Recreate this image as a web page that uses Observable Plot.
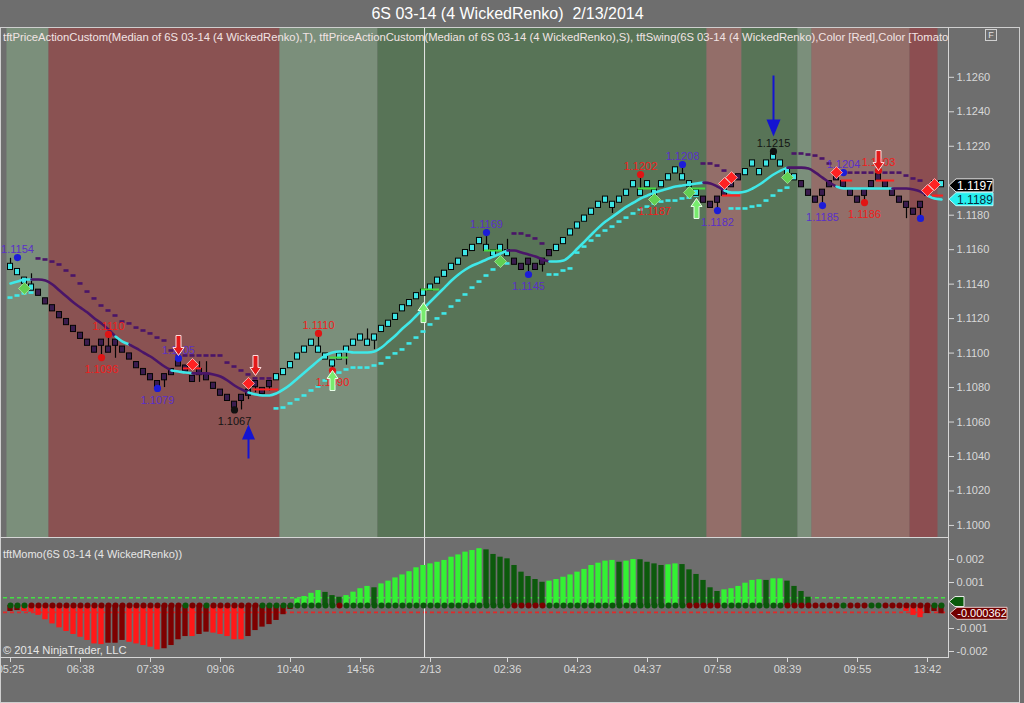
<!DOCTYPE html>
<html>
<head>
<meta charset="utf-8">
<script src="https://cdn.jsdelivr.net/npm/d3@7"></script>
<script src="https://cdn.jsdelivr.net/npm/@observablehq/plot@0.6"></script>
<style>
html,body{margin:0;padding:0;background:#6e6e6e;}
#wrap{position:relative;width:1024px;height:703px;overflow:hidden;background:#6e6e6e;font-family:"Liberation Sans",Arial,sans-serif;}
#title{position:absolute;left:0;top:0;width:1015px;height:27px;line-height:27px;text-align:center;color:#ffffff;font-size:16px;}
#legend{position:absolute;left:3px;top:31px;width:946px;overflow:hidden;white-space:nowrap;color:#f2e4e4;font-size:11.25px;line-height:13px;z-index:5;}
#momoTitle{position:absolute;left:3px;top:548px;white-space:nowrap;color:#e6e6e6;font-size:11px;line-height:13px;z-index:5;}
#copy{position:absolute;left:3px;top:644px;white-space:nowrap;color:#e6e6e6;font-size:11.2px;line-height:13px;z-index:5;}
.pane{position:absolute;left:0;}
.hline{position:absolute;height:1px;background:#d6d6d6;z-index:4;}
.vline{position:absolute;width:1px;background:#d6d6d6;z-index:4;}
#frame{position:absolute;left:0;top:27px;width:1020px;height:676px;box-sizing:border-box;border:1px solid #cfcfcf;z-index:4;}
#fbox{position:absolute;left:985px;top:29px;width:12px;height:12px;box-sizing:border-box;border:1px solid #d0d0d0;color:#e0e0e0;font-size:9px;line-height:10px;text-align:center;z-index:5;}
</style>
</head>
<body>
<div id="wrap">
  <div id="title">6S 03-14 (4 WickedRenko)&nbsp; 2/13/2014</div>
  <div id="frame"></div>
  <div id="fbox">F</div>
  <div id="legend">tftPriceActionCustom(Median of 6S 03-14 (4 WickedRenko),T), tftPriceActionCustom(Median of 6S 03-14 (4 WickedRenko),S), tftSwing(6S 03-14 (4 WickedRenko),Color [Red],Color [Tomato</div>
  <div id="momoTitle">tftMomo(6S 03-14 (4 WickedRenko))</div>
  <div id="copy">© 2014 NinjaTrader, LLC</div>
  <div class="hline" style="left:0;top:537px;width:948px;"></div>
  <div class="hline" style="left:0;top:657px;width:949px;"></div>
  <div class="vline" style="left:948px;top:27px;height:631px;"></div>
</div>
<script>
// ---------------- DATA ----------------
// Renko brick centres (4-tick bricks of 0.0004), one per bar
const brickMid = [
1.1150,1.1147,1.1142,1.1138,1.1135,1.1130,1.1126,1.1122,1.1118,1.1114,
1.1110,1.1106,1.1102,1.1106,1.1102,1.1106,1.1102,1.1098,1.1093,1.1089,
1.1086,1.1082,1.1086,1.1089,1.1094,1.1091,1.1085,1.1089,1.1086,1.1081,
1.1077,1.1074,1.1070,1.1074,1.1077,1.1082,1.1078,1.1082,1.1086,1.1089,
1.1093,1.1098,1.1102,1.1106,1.1102,1.1098,1.1094,1.1098,1.1102,1.1106,
1.1109,1.1106,1.1109,1.1114,1.1117,1.1121,1.1126,1.1129,1.1133,1.1135,
1.1138,1.1142,1.1146,1.1150,1.1153,1.1158,1.1161,1.1165,1.1161,1.1158,
1.1161,1.1158,1.1153,1.1150,1.1153,1.1150,1.1153,1.1158,1.1161,1.1165,
1.1170,1.1174,1.1178,1.1182,1.1186,1.1189,1.1186,1.1189,1.1193,1.1198,
1.1193,1.1198,1.1193,1.1198,1.1202,1.1206,1.1202,1.1198,1.1193,1.1189,
1.1186,1.1189,1.1193,1.1198,1.1202,1.1205,1.1210,1.1205,1.1210,1.1214,
1.1210,1.1205,1.1202,1.1198,1.1193,1.1189,1.1193,1.1198,1.1202,1.1198,
1.1193,1.1189,1.1193,1.1198,1.1202,1.1198,1.1193,1.1189,1.1186,1.1182,
1.1186,1.1193,1.1198,1.1198];
const brickSize = 0.0004;
// paint-bar trend: U = up (cyan), D = down (dark purple)
const brickTrend = "U".repeat(4) + "D".repeat(34) + "U".repeat(34) + "D".repeat(6) + "U".repeat(21) + "D".repeat(6) + "U".repeat(8) + "D".repeat(20) + "U";

// wicks (sparse)
const wickBar  = [0,3,13,14,15,22,24,26,27,28,32,33,34,35,37,44,46,48,51,52,68,71,74,76,86,90,92,96,97,101,109,111,116,122,124,128,130];
const wickHigh = [1.1155,1.1146,null,1.1111,null,null,1.1099,null,1.1095,1.1095,null,null,null,null,null,1.1111,null,null,1.1114,null,1.1170,1.1166,null,null,null,1.1204,null,1.1209,null,null,1.1217,null,null,null,1.1206,null,null];
const wickLow  = [null,null,1.1097,null,1.1097,1.1080,null,1.1084,1.1083,null,1.1067,1.1067,1.1073,1.1077,1.1078,null,1.1089,1.1093,null,1.1102,null,null,1.1146,1.1147,1.1181,null,1.1188,null,1.1192,1.1183,null,1.1201,1.1186,1.1187,null,1.1178,1.1178];

// smoothed median line (tftPriceActionCustom T) and its colour state C = cyan, P = purple
const maLine = [
1.11404,1.11415,1.11427,1.11427,1.11427,1.11421,1.11398,1.11363,1.11328,1.11293,
1.11264,1.11235,1.11201,1.11172,1.11137,1.11096,1.11067,1.11050,1.11027,1.11003,
1.10980,1.10951,1.10922,1.10899,1.10893,1.10887,1.10882,1.10882,1.10882,1.10876,
1.10864,1.10841,1.10812,1.10789,1.10771,1.10760,1.10754,1.10754,1.10766,1.10789,
1.10818,1.10853,1.10887,1.10922,1.10957,1.10986,1.11003,1.11009,1.11009,1.11003,
1.11003,1.11003,1.11009,1.11032,1.11067,1.11102,1.11143,1.11177,1.11218,1.11259,
1.11299,1.11340,1.11380,1.11421,1.11456,1.11485,1.11508,1.11525,1.11543,1.11560,
1.11578,1.11595,1.11595,1.11583,1.11572,1.11560,1.11543,1.11531,1.11531,1.11537,
1.11566,1.11607,1.11647,1.11688,1.11728,1.11763,1.11792,1.11821,1.11850,1.11873,
1.11897,1.11914,1.11931,1.11943,1.11955,1.11966,1.11972,1.11978,1.11984,1.11989,
1.11984,1.11966,1.11943,1.11931,1.11931,1.11937,1.11955,1.11978,1.12007,1.12036,
1.12059,1.12076,1.12076,1.12076,1.12071,1.12047,1.12018,1.11989,1.11966,1.11955,
1.11955,1.11955,1.11955,1.11955,1.11955,1.11955,1.11955,1.11955,1.11955,1.11949,
1.11937,1.11914,1.11897,1.11891];
const maColor = "C".repeat(3) + "P".repeat(12) + "C".repeat(2) + "P".repeat(6) + "C".repeat(3) + "P".repeat(8) + "C".repeat(37) + "P".repeat(6) + "C".repeat(22) + "P".repeat(3) + "C".repeat(9) + "P".repeat(7) + "C".repeat(8) + "P".repeat(5) + "C".repeat(3);

// trailing stop dashes (tftPriceActionCustom S), bars 0..130; side C = below (cyan), P = above (purple)
const stopVal = [
1.11322,1.11334,1.11346,1.11351,
1.11549,1.11543,1.11531,1.11514,1.11479,1.11450,1.11404,1.11357,1.11317,1.11276,1.11247,1.11218,1.11183,1.11172,1.11148,1.11131,1.11114,1.11090,1.11073,1.11015,1.10986,1.10986,1.10986,1.10986,1.10986,1.10986,1.10986,1.10945,1.10922,1.10899,1.10876,1.10853,1.10853,1.10853,
1.10679,1.10684,1.10708,1.10731,1.10754,1.10783,1.10806,1.10841,1.10864,1.10887,1.10905,1.10916,1.10916,1.10916,1.10928,1.10940,1.10974,1.10998,1.11021,1.11056,1.11090,1.11125,1.11166,1.11201,1.11230,1.11270,1.11305,1.11340,1.11380,1.11415,1.11450,1.11485,1.11514,1.11520,
1.11694,1.11694,1.11682,1.11665,1.11636,
1.11456,1.11456,1.11479,1.11491,1.11583,1.11618,1.11653,1.11682,1.11711,1.11734,1.11763,1.11786,1.11810,1.11833,1.11850,1.11868,1.11879,1.11885,1.11885,1.11897,1.11902,1.11914,
1.12100,1.12100,1.12088,1.12059,
1.11839,1.11839,1.11839,1.11850,1.11856,1.11885,1.11914,1.11943,1.11960,
1.12158,1.12158,1.12152,1.12146,1.12129,1.12100,1.12047,1.12047,1.12047,1.12047,1.12047,1.12047,1.12047,1.12047,1.12047,1.12047,1.12030,1.12013,1.12001];
const stopSide = "C".repeat(4) + "P".repeat(34) + "C".repeat(34) + "P".repeat(5) + "C".repeat(22) + "P".repeat(4) + "C".repeat(9) + "P".repeat(19);

// background trend zones
const bandStart = [0, 6, 39, 53, 100, 105, 113, 115, 129];
const bandEnd   = [5, 38, 52, 99, 104, 112, 114, 128, 132];
const bandKind  = ["upLight","down","upLight","up","downLight","up","upLight","downLight","downDark"];

// swing points
const swingBar   = [1, 14, 13, 21, 24, 32, 44, 46, 68, 74, 90, 92, 96, 101, 109, 116, 119, 122, 124, 130];
const swingPrice = [1.11554,1.11108,1.10974,1.10795,1.10969,1.1067,1.11114,1.10899,1.11699,1.11456,1.12036,1.11890,1.12094,1.11827,1.12170,1.11856,1.12047,1.11873,1.12059,1.11781];
const swingLabel = ["1.1154","1.1110","1.1096","1.1079","1.1105","1.1067","1.1110","1.1090","1.1169","1.1145","1.1202","1.1187","1.1208","1.1182","1.1215","1.1185","1.1204","1.1186","1.1203",""];
const swingPos   = ["a","a","b","b","a","b","a","b","a","b","a","b","a","b","a","b","a","b","a","b"];
const swingKind  = ["b","r","r","b","b","k","r","r","b","b","r","r","b","b","k","b","b","r","r","b"];

// signal markers
const greenDiamondBar = [2, 70, 92, 97, 111];
const greenDiamondPrice = [1.11375, 1.11531, 1.11891, 1.11931, 1.12018];
const redDiamondBar = [26, 34, 102, 103, 118, 131, 132];
const redDiamondPrice = [1.10934, 1.10824, 1.11984, 1.12018, 1.12047, 1.11943, 1.11978];
const redArrowBar = [24, 35, 124];
const redArrowTip = [1.10986, 1.10870, 1.12059];
const greenArrowBar = [46, 59, 98];
const greenArrowTip = [1.10899, 1.11293, 1.11897];
const blueUpBar = [34];  const blueUpTip = [1.10586];
const blueDownBar = [109]; const blueDownTip = [1.12256];
const redLineFrom = [25, 35, 102, 119, 124, 132];
const redLineTo   = [27, 38, 104, 120, 126, 133];
const redLinePrice = [1.10911, 1.10789, 1.11914, 1.12001, 1.12001, 1.11914];
const greenLineFrom = [46, 59, 68, 90, 97];
const greenLineTo   = [48, 61, 70, 92, 99];
const greenLinePrice = [1.10974, 1.11369, 1.11595, 1.11955, 1.11955];

// last value tags
const priceTagValue = [1.1197, 1.1189];
const priceTagText  = ["1.1197", "1.1189"];
const momoTagValue = -0.000362;
const momoTagText = "-0.000362";
const momoGreenTagValue = 0.00015;

// price axis labels (1.1200 is hidden under the last-price tag in the reference)
const priceTicks = [1.1000,1.1020,1.1040,1.1060,1.1080,1.1100,1.1120,1.1140,1.1160,1.1180,1.1220,1.1240,1.1260];

// momentum histogram (tftMomo)
const momo = [
-0.00026,-0.00022,-0.00026,-0.00029,-0.00043,-0.00062,-0.00080,-0.00097,-0.00113,-0.00126,
-0.00138,-0.00152,-0.00167,-0.00170,-0.00164,-0.00164,-0.00152,-0.00160,-0.00167,-0.00174,
-0.00181,-0.00193,-0.00188,-0.00174,-0.00149,-0.00135,-0.00135,-0.00126,-0.00116,-0.00120,
-0.00126,-0.00135,-0.00149,-0.00149,-0.00135,-0.00109,-0.00094,-0.00083,-0.00065,-0.00040,
-0.00017,0.00029,0.00039,0.00053,0.00065,0.00057,0.00043,0.00036,0.00043,0.00058,
0.00073,0.00083,0.00077,0.00094,0.00106,0.00120,0.00133,0.00147,0.00164,0.00174,
0.00181,0.00188,0.00196,0.00210,0.00220,0.00232,0.00239,0.00247,0.00242,0.00222,
0.00210,0.00203,0.00174,0.00145,0.00126,0.00113,0.00101,0.00106,0.00113,0.00123,
0.00133,0.00145,0.00157,0.00174,0.00184,0.00193,0.00196,0.00188,0.00193,0.00200,
0.00199,0.00188,0.00181,0.00174,0.00177,0.00181,0.00178,0.00155,0.00135,0.00109,
0.00077,0.00061,0.00068,0.00073,0.00083,0.00097,0.00109,0.00112,0.00109,0.00116,
0.00116,0.00106,0.00083,0.00061,0.00036,0,0,0,0,0,
0,0,0,0,0,0,-0.00005,-0.00012,-0.00026,-0.00043,
-0.00053,-0.00035,-0.00026,-0.00036];
// G bright green, g dark green, R bright red, r dark red
const momoColor = "rr" + "R".repeat(12) + "rrr" + "R".repeat(5) + "rrrr" + "R" + "rr" + "R".repeat(5) + "r".repeat(7) + "GGGG" + "ggg" + "GGGG" + "g" + "G".repeat(15) + "g".repeat(9) + "G".repeat(10) + "g" + "GG" + "gggg" + "GG" + "g".repeat(6) + "G".repeat(6) + "g" + "GG" + "g".repeat(15) + "R".repeat(5) + "rrr";
const momoDot = "g".repeat(3) + "r".repeat(22) + "g" + "rr" + "g" + "r".repeat(7) + "g".repeat(11) + "r" + "g".repeat(24) + "r".repeat(5) + "g".repeat(20) + "r".repeat(5) + "g".repeat(9) + "r".repeat(8) + "g" + "rrr" + "gg" + "r".repeat(7) + "gg";
const momoUpper = 0.00034;
const momoLower = -0.0003;
const momoTicks = [-0.002, -0.001, 0.001, 0.002];

const timeTickBar   = [0, 10, 20, 30, 40, 50, 60, 71, 81, 91, 101, 111, 121, 131];
const timeTickLabel = ["05:25","06:38","07:39","09:06","10:40","14:56","2/13","02:36","04:23","04:37","07:58","08:39","09:55","13:42"];
const crosshairBar = 59.15;

// ---------------- STYLE ----------------
const FONT = "Liberation Sans, Arial, sans-serif";
const COL = {
  upLight: "#7b8f7b", down: "#8a5252", up: "#587457", downLight: "#936e69", downDark: "#8c4e51",
  cyan: "#3fe8e8", purple: "#4a1568", brickUp: "#3ee6e6", brickDn: "#3a1c4e",
  G: "#33f233", g: "#0c5a0c", R: "#ff1818", r: "#7e0000",
  dotG: "#0a560a", dotR: "#7a0000"
};
const swingDotColor = {b: "#1c1cd8", r: "#e01414", k: "#111111"};
const swingTextColor = {b: "#5a30c8", r: "#f01c1c", k: "#141414"};

function arrowShape(len, shaftW, headW, headL, dir) {
  return {draw(ctx) {
    const s = dir;
    ctx.moveTo(0, 0);
    ctx.lineTo(-headW / 2, -headL * s);
    ctx.lineTo(-shaftW / 2, -headL * s);
    ctx.lineTo(-shaftW / 2, -len * s);
    ctx.lineTo(shaftW / 2, -len * s);
    ctx.lineTo(shaftW / 2, -headL * s);
    ctx.lineTo(headW / 2, -headL * s);
    ctx.closePath();
  }};
}
const diamondShape = {draw(ctx) { ctx.moveTo(0, -6); ctx.lineTo(6, 0); ctx.lineTo(0, 6); ctx.lineTo(-6, 0); ctx.closePath(); }};

// ---------------- TABLES ----------------
const n = brickMid.length;
const half = brickSize / 2;
const bars = brickMid.map((m, i) => ({i, lo: m - half * 0.9, hi: m + half * 0.9, up: brickTrend[i] === "U"}));
const wicks = wickBar.map((b, k) => ({i: b, hi: wickHigh[k] ?? brickMid[b], lo: wickLow[k] ?? brickMid[b]}));
const bands = bandStart.map((s, k) => ({s, e: bandEnd[k], k: bandKind[k]}));
const stops = stopVal.map((v, i) => ({i, v, side: stopSide[i]}));
const maPts = [];
let run = 0;
for (let i = 0; i < n; i++) {
  if (i > 0 && maColor[i] !== maColor[i - 1]) run++;
  maPts.push({i, v: maLine[i], run, c: maColor[i]});
  if (i + 1 < n && maColor[i + 1] !== maColor[i]) maPts.push({i: i + 1, v: maLine[i + 1], run, c: maColor[i]});
}
const swings = swingBar.map((b, k) => ({i: b, v: swingPrice[k], t: swingLabel[k], pos: swingPos[k], kind: swingKind[k]}));
const pts = (bs, ps) => bs.map((b, k) => ({i: b, v: ps[k]}));
const segs = (a, b, p) => a.map((x, k) => ({a: x, b: b[k], v: p[k]}));
const momoRows = momo.map((v, i) => ({i, v, c: momoColor[i], d: momoDot[i]}));
const tickLabelOf = new Map(timeTickBar.map((b, k) => [b, timeTickLabel[k]]));

const priceDomain = [1.09930, 1.12889];
const xDomain = [-1, 134];
const wrap = document.getElementById("wrap");

// ---------------- PRICE PANEL ----------------
const main = Plot.plot({
  width: 1024, height: 510,
  marginTop: 0, marginBottom: 0, marginLeft: 3, marginRight: 76,
  x: {domain: xDomain, axis: null},
  y: {domain: priceDomain},
  style: {background: "transparent", color: "#dcdcdc", fontFamily: FONT, fontSize: "11px", overflow: "visible"},
  marks: [
    Plot.rect(bands, {x1: d => d.s - 0.5, x2: d => d.e + 0.5, y1: () => priceDomain[0], y2: () => priceDomain[1], fill: d => COL[d.k]}),
    Plot.ruleX([crosshairBar], {stroke: "#e8e8e8", strokeWidth: 1}),
    Plot.ruleY(stops, {y: "v", x1: d => d.i - 0.36, x2: d => d.i + 0.36, stroke: d => d.side === "C" ? COL.cyan : COL.purple, strokeWidth: 2.6}),
    Plot.ruleX(wicks, {x: "i", y1: "lo", y2: "hi", stroke: "#050505", strokeWidth: 1.2}),
    Plot.rect(bars, {x1: d => d.i - 0.36, x2: d => d.i + 0.36, y1: "lo", y2: "hi", fill: d => d.up ? COL.brickUp : COL.brickDn, stroke: "#050505", strokeWidth: 1}),
    Plot.line(maPts, {x: "i", y: "v", z: "run", stroke: d => d.c === "C" ? COL.cyan : COL.purple, strokeWidth: 2.6, curve: "monotone-x"}),
    Plot.ruleY(segs(redLineFrom, redLineTo, redLinePrice), {y: "v", x1: d => d.a - 0.3, x2: d => d.b + 0.3, stroke: "#ff2020", strokeWidth: 2}),
    Plot.ruleY(segs(greenLineFrom, greenLineTo, greenLinePrice), {y: "v", x1: d => d.a - 0.3, x2: d => d.b + 0.3, stroke: "#44dd44", strokeWidth: 2}),
    Plot.dot(swings, {x: "i", y: "v", r: 3.6, fill: d => swingDotColor[d.kind], stroke: null}),
    Plot.text(swings.filter(d => d.pos === "a"), {x: "i", y: "v", text: "t", fill: d => swingTextColor[d.kind], dy: -8, fontSize: 11}),
    Plot.text(swings.filter(d => d.pos === "b"), {x: "i", y: "v", text: "t", fill: d => swingTextColor[d.kind], dy: 12, fontSize: 11}),
    Plot.dot(pts(greenDiamondBar, greenDiamondPrice), {x: "i", y: "v", symbol: diamondShape, fill: "#62cf52", stroke: "#a8eaa0", strokeWidth: 0.8}),
    Plot.dot(pts(redDiamondBar, redDiamondPrice), {x: "i", y: "v", symbol: diamondShape, fill: "#ff2222", stroke: "#ffc8c8", strokeWidth: 0.8}),
    Plot.dot(pts(redArrowBar, redArrowTip), {x: "i", y: "v", symbol: arrowShape(20, 5, 11, 8, 1), fill: "#e31a1a", stroke: "#ffdede", strokeWidth: 1}),
    Plot.dot(pts(greenArrowBar, greenArrowTip), {x: "i", y: "v", symbol: arrowShape(20, 5, 11, 8, -1), fill: "#78ec6e", stroke: "#eaffea", strokeWidth: 1}),
    Plot.dot(pts(blueUpBar, blueUpTip), {x: "i", y: "v", symbol: arrowShape(34, 2, 13, 15, -1), fill: "#1414d2", stroke: null}),
    Plot.dot(pts(blueDownBar, blueDownTip), {x: "i", y: "v", symbol: arrowShape(61, 2, 14, 17, 1), fill: "#1414d2", stroke: null}),
    Plot.axisY(priceTicks, {anchor: "right", tickFormat: d => d.toFixed(4), tickSize: 5, tickPadding: 3, fontSize: 11, label: null, stroke: "#d8d8d8", fill: "#d8d8d8"})
  ]
});
main.classList.add("pane");
main.style.top = "27px";
wrap.appendChild(main);

const ysMain = main.scale("y");
const gMain = d3.select(main).append("g");
const tagStyle = [{fill: "#000000", stroke: "#e8e8e8", text: "#ffffff"}, {fill: "#25f0f0", stroke: "#b0ffff", text: "#0a2a3a"}];
priceTagValue.forEach((v, k) => {
  const y = ysMain.apply(v);
  gMain.append("path")
    .attr("d", `M949,${y} L956,${y - 6.5} L993,${y - 6.5} L993,${y + 6.5} L956,${y + 6.5} Z`)
    .attr("fill", tagStyle[k].fill).attr("stroke", tagStyle[k].stroke).attr("stroke-width", 1);
  gMain.append("text").attr("x", 975).attr("y", y).attr("dy", "0.36em").attr("text-anchor", "middle")
    .attr("fill", tagStyle[k].text).attr("font-size", 12).attr("font-family", FONT).text(priceTagText[k]);
});

// ---------------- MOMENTUM PANEL ----------------
const momoDomain = [-0.002261, 0.002957];
const momoPlot = Plot.plot({
  width: 1024, height: 166,
  marginTop: 0, marginBottom: 46, marginLeft: 3, marginRight: 76,
  x: {domain: xDomain},
  y: {domain: momoDomain},
  style: {background: "transparent", color: "#dcdcdc", fontFamily: FONT, fontSize: "11px", overflow: "visible"},
  marks: [
    Plot.ruleY([momoUpper], {stroke: "#44e044", strokeWidth: 1.6, strokeDasharray: "4,3"}),
    Plot.ruleY([momoLower], {stroke: "#e02a2a", strokeWidth: 1.6, strokeDasharray: "4,3"}),
    Plot.ruleX([crosshairBar], {stroke: "#e8e8e8", strokeWidth: 1}),
    Plot.rect(momoRows, {x1: d => d.i - 0.38, x2: d => d.i + 0.38, y1: () => 0, y2: "v", fill: d => COL[d.c]}),
    Plot.dot(momoRows, {x: "i", y: () => 0, r: 3, fill: d => d.d === "g" ? COL.dotG : COL.dotR, stroke: null}),
    Plot.axisY(momoTicks, {anchor: "right", tickFormat: d => d.toFixed(3), tickSize: 5, tickPadding: 3, fontSize: 11, label: null, stroke: "#d8d8d8", fill: "#d8d8d8"}),
    Plot.axisX(timeTickBar, {anchor: "bottom", tickFormat: d => tickLabelOf.get(d), tickSize: 5, tickPadding: 3, fontSize: 11, label: null, stroke: "#d8d8d8", fill: "#d8d8d8"})
  ]
});
momoPlot.classList.add("pane");
momoPlot.style.top = "537px";
wrap.appendChild(momoPlot);

const ysMomo = momoPlot.scale("y");
const gMomo = d3.select(momoPlot).append("g");
{
  const y = ysMomo.apply(momoGreenTagValue);
  gMomo.append("path").attr("d", `M949,${y} L955,${y - 5} L964,${y - 5} L964,${y + 5} L955,${y + 5} Z`)
    .attr("fill", "#0b5a0b").attr("stroke", "#f0f0f0").attr("stroke-width", 1);
  const y2 = ysMomo.apply(momoTagValue);
  gMomo.append("path").attr("d", `M950,${y2} L957,${y2 - 6} L1007,${y2 - 6} L1007,${y2 + 6} L957,${y2 + 6} Z`)
    .attr("fill", "#720000").attr("stroke", "#e8c8c8").attr("stroke-width", 1);
  gMomo.append("text").attr("x", 982).attr("y", y2).attr("dy", "0.36em").attr("text-anchor", "middle")
    .attr("fill", "#ffffff").attr("font-size", 11).attr("font-family", FONT).text(momoTagText);
}
</script>
</body>
</html>
